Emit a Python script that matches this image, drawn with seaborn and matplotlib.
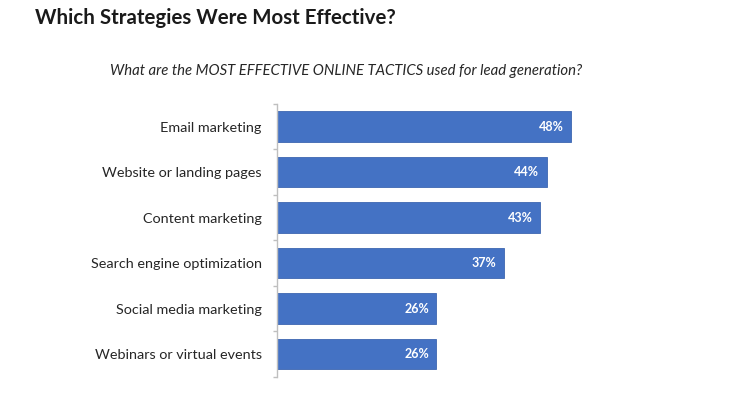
import numpy as np
import pandas as pd
import matplotlib
matplotlib.use("Agg")
import matplotlib.pyplot as plt
import seaborn as sns
from matplotlib.ticker import FixedLocator, NullLocator

tactics = ["Email marketing", "Website or landing pages", "Content marketing",
           "Search engine optimization", "Social media marketing",
           "Webinars or virtual events"]
pct = [48, 44, 43, 37, 26, 26]

title = "Which Strategies Were Most Effective?"
subtitle = "What are the MOST EFFECTIVE ONLINE TACTICS used for lead generation?"

df = pd.DataFrame({"tactic": tactics, "pct": pct})

sns.set_theme(style="white")
plt.rcParams["font.family"] = ["Lato", "DejaVu Sans"]

fig = plt.figure(figsize=(7.29, 3.93), dpi=100)
ax = fig.add_axes([277 / 729, 0.0413, 367.5 / 729, 0.6947])

sns.barplot(data=df, x="pct", y="tactic", orient="h", color="#4472C4",
            saturation=1, width=0.66, ax=ax, edgecolor="#3d66b0", linewidth=0.6)

ax.set_xlim(0, 60)
ax.set_ylim(len(tactics) - 0.5, -0.5)
ax.set_xlabel("")
ax.set_ylabel("")
ax.xaxis.set_major_locator(NullLocator())

for s in ["top", "right", "bottom"]:
    ax.spines[s].set_visible(False)
ax.spines["left"].set_color("#bfbfbf")
ax.spines["left"].set_linewidth(1.0)

# small ticks between categories, like the Excel original
ax.yaxis.set_minor_locator(FixedLocator(np.arange(-0.5, len(tactics), 1.0)))
ax.tick_params(axis="y", which="major", length=0, pad=11, labelsize=10.4, labelcolor="#262626")
ax.tick_params(axis="y", which="minor", length=3, width=1, color="#bfbfbf", left=True)

for i, v in enumerate(pct):
    ax.text(v - 1.2, i, f"{v}%", ha="right", va="center", color="white",
            fontsize=9, fontweight="bold")

fig.text(35 / 729, 1 - 18 / 393, title, ha="left", va="center",
         fontsize=14.8, fontweight="bold", color="#1a1a1a")
fig.text(346 / 729, 1 - 71 / 393, subtitle, ha="center", va="center",
         fontsize=10.7, style="italic", color="#262626")

fig.savefig("out.png", dpi=100)
